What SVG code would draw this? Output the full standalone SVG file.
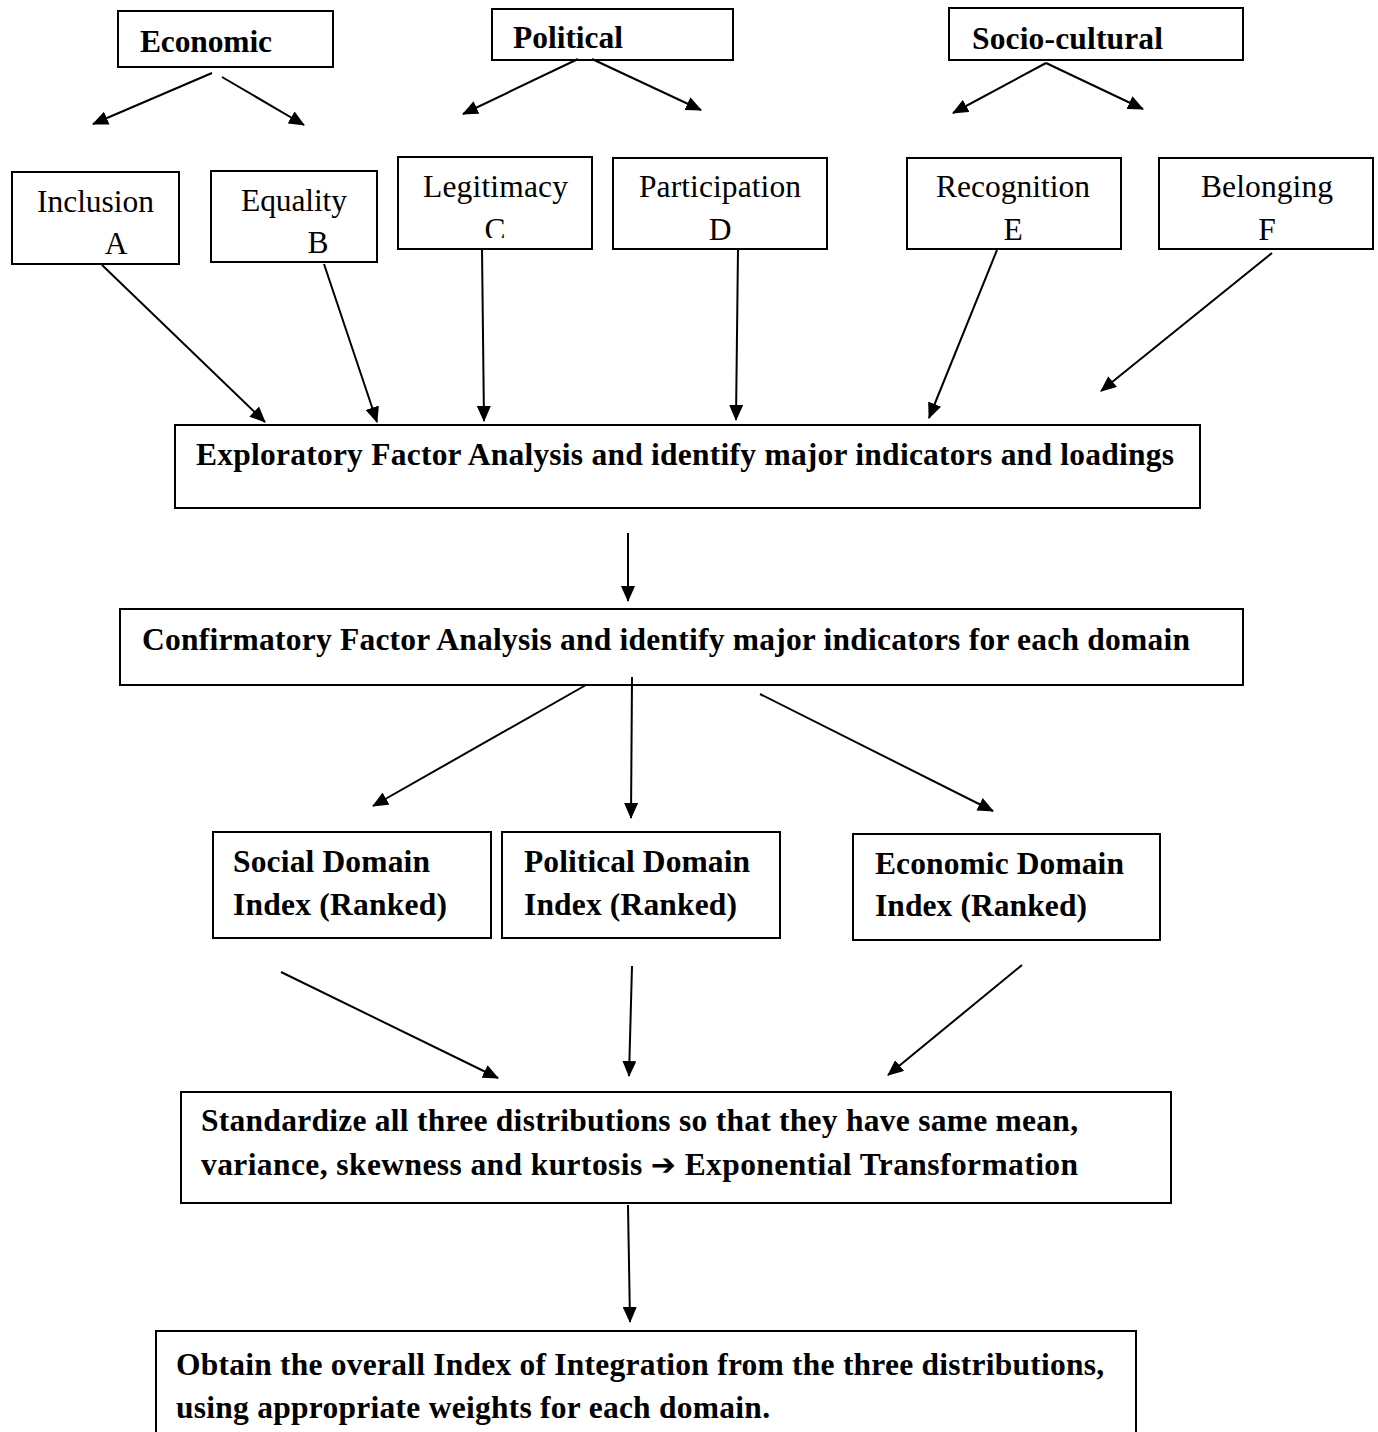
<svg xmlns="http://www.w3.org/2000/svg" width="1378" height="1432" viewBox="0 0 1378 1432">
<style>
.box{fill:#fff;stroke:#000;stroke-width:2}
.t{font-family:"Liberation Serif","Times New Roman",serif;font-size:31.5px;fill:#000}
.b{font-weight:bold}
.c{text-anchor:middle}
.conn line{stroke:#000;stroke-width:2;fill:none;marker-end:url(#ah)}
</style>
<defs>
<marker id="ah" markerUnits="userSpaceOnUse" markerWidth="16" markerHeight="14" refX="15" refY="7" orient="auto">
<path d="M0,0 L16,7 L0,14 z" fill="#000"/>
</marker>
<clipPath id="clipC"><rect x="398" y="157" width="194" height="81"/></clipPath>
<clipPath id="clipPol"><rect x="492" y="9" width="241" height="40"/></clipPath>
</defs>
<rect width="1378" height="1432" fill="#fff"/>

<g id="economic"><rect class="box" x="118" y="11" width="215" height="56"/><text class="t b" x="140" y="52" textLength="132">Economic</text></g>
<g id="political"><rect class="box" x="492" y="9" width="241" height="51"/><text class="t b" x="513" y="48" textLength="110" clip-path="url(#clipPol)">Political</text></g>
<g id="sociocultural"><rect class="box" x="949" y="8" width="294" height="52"/><text class="t b" x="972" y="49" textLength="191">Socio-cultural</text></g>

<g id="inclusion"><rect class="box" x="12" y="172" width="167" height="92"/><text class="t" x="37" y="212" textLength="117">Inclusion</text><text class="t c" x="116" y="254">A</text></g>
<g id="equality"><rect class="box" x="211" y="171" width="166" height="91"/><text class="t" x="241" y="211" textLength="106">Equality</text><text class="t c" x="318" y="253">B</text></g>
<g id="legitimacy"><rect class="box" x="398" y="157" width="194" height="92"/><text class="t" x="423" y="197" textLength="145">Legitimacy</text><text class="t c" x="495" y="240" clip-path="url(#clipC)">C</text></g>
<g id="participation"><rect class="box" x="613" y="158" width="214" height="91"/><text class="t" x="639" y="197" textLength="162">Participation</text><text class="t c" x="720" y="240">D</text></g>
<g id="recognition"><rect class="box" x="907" y="158" width="214" height="91"/><text class="t" x="936" y="197" textLength="154">Recognition</text><text class="t c" x="1013" y="240">E</text></g>
<g id="belonging"><rect class="box" x="1159" y="158" width="214" height="91"/><text class="t" x="1201" y="197" textLength="132">Belonging</text><text class="t c" x="1267" y="240">F</text></g>

<g id="efa"><rect class="box" x="175" y="425" width="1025" height="83"/><text class="t b" x="196" y="465" textLength="978">Exploratory Factor Analysis and identify major indicators and loadings</text></g>
<g id="cfa"><rect class="box" x="120" y="609" width="1123" height="76"/><text class="t b" x="142" y="650" textLength="1048">Confirmatory Factor Analysis and identify major indicators for each domain</text></g>

<g id="social-domain"><rect class="box" x="213" y="832" width="278" height="106"/><text class="t b" x="233" y="872" textLength="197">Social Domain</text><text class="t b" x="233" y="915" textLength="214">Index (Ranked)</text></g>
<g id="political-domain"><rect class="box" x="502" y="832" width="278" height="106"/><text class="t b" x="524" y="872" textLength="226">Political Domain</text><text class="t b" x="524" y="915" textLength="213">Index (Ranked)</text></g>
<g id="economic-domain"><rect class="box" x="853" y="834" width="307" height="106"/><text class="t b" x="875" y="874" textLength="249">Economic Domain</text><text class="t b" x="875" y="916" textLength="212">Index (Ranked)</text></g>

<g id="standardize"><rect class="box" x="181" y="1092" width="990" height="111"/><text class="t b" x="201" y="1131" textLength="877">Standardize all three distributions so that they have same mean,</text><text class="t b" x="201" y="1175" textLength="877">variance, skewness and kurtosis <tspan font-family="'DejaVu Sans',sans-serif" font-size="30">➔</tspan> Exponential Transformation</text></g>

<g id="obtain"><rect class="box" x="156" y="1331" width="980" height="120"/><text class="t b" x="176" y="1375" textLength="928">Obtain the overall Index of Integration from the three distributions,</text><text class="t b" x="176" y="1418" textLength="594">using appropriate weights for each domain.</text></g>

<g id="connectors" class="conn">
<line x1="212" y1="73" x2="93" y2="124"/>
<line x1="222" y1="77" x2="304" y2="125"/>
<line x1="578" y1="59" x2="463" y2="114"/>
<line x1="592" y1="59" x2="701" y2="110"/>
<line x1="1046" y1="63" x2="953" y2="113"/>
<line x1="1046" y1="63" x2="1143" y2="109"/>
<line x1="102" y1="265" x2="265" y2="422"/>
<line x1="324" y1="264" x2="377" y2="422"/>
<line x1="482" y1="249" x2="484" y2="421"/>
<line x1="738" y1="249" x2="736" y2="420"/>
<line x1="997" y1="250" x2="929" y2="418"/>
<line x1="1272" y1="253" x2="1101" y2="391"/>
<line x1="628" y1="533" x2="628" y2="601"/>
<line x1="586" y1="685" x2="373" y2="806"/>
<line x1="632" y1="677" x2="631" y2="818"/>
<line x1="760" y1="694" x2="993" y2="811"/>
<line x1="281" y1="972" x2="498" y2="1078"/>
<line x1="632" y1="966" x2="629" y2="1076"/>
<line x1="1022" y1="965" x2="888" y2="1075"/>
<line x1="628" y1="1205" x2="630" y2="1322"/>
</g>
</svg>
